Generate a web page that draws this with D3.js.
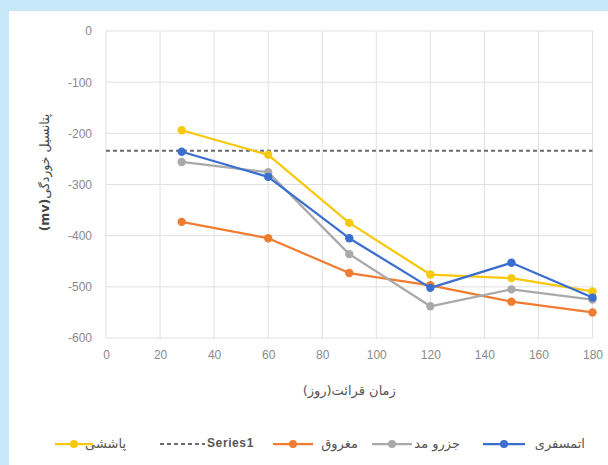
<!DOCTYPE html>
<html>
<head>
<meta charset="utf-8">
<script src="https://cdn.jsdelivr.net/npm/d3@7"></script>
<style>
  html, body { margin: 0; padding: 0; background: #c6e8f8; }
  svg { display: block; }
</style>
</head>
<body>
<script>
// Exposure time (days) and corrosion potential (mV) for each exposure zone
const days = [28, 60, 90, 120, 150, 180];
const atmospheric = [-236, -285, -405, -502, -453, -521];   // اتمسفری
const tidal = [-256, -276, -436, -538, -505, -525];         // جزرو مد
const submerged = [-373, -405, -473, -497, -529, -550];     // مغروق
const splash = [-194, -242, -375, -476, -483, -509];        // پاششی
const referenceDays = [0, 180];
const referenceLevel = [-234, -234];                        // Series1

const xTicks = [0, 20, 40, 60, 80, 100, 120, 140, 160, 180];
const yTicks = [0, -100, -200, -300, -400, -500, -600];

const W = 608, H = 465;
const svg = d3.select("body").append("svg").attr("width", W).attr("height", H);

// white chart panel on the light blue page
svg.append("rect").attr("x", 9).attr("y", 11).attr("width", W - 9).attr("height", H - 11).attr("fill", "#ffffff");

const x = d3.scaleLinear().domain([0, 180]).range([106, 592.5]);
const y = d3.scaleLinear().domain([-600, 0]).range([338, 31]);

// gridlines
const grid = svg.append("g").attr("stroke", "#e0e0e0").attr("stroke-width", 1);
grid.selectAll("line.h").data(yTicks).join("line")
  .attr("x1", x(0)).attr("x2", x(180))
  .attr("y1", d => y(d)).attr("y2", d => y(d));
grid.selectAll("line.v").data(xTicks).join("line")
  .attr("y1", y(0)).attr("y2", y(-600))
  .attr("x1", d => x(d)).attr("x2", d => x(d));

// axes (labels only, plain hyphen for negatives)
const yAxis = svg.append("g").attr("transform", `translate(${x(0) - 14},0)`)
  .call(d3.axisLeft(y).tickValues(yTicks).tickSize(0).tickPadding(0).tickFormat(d => String(d)));
const xAxis = svg.append("g").attr("transform", `translate(0,${y(-600) + 12})`)
  .call(d3.axisBottom(x).tickValues(xTicks).tickSize(0).tickPadding(0).tickFormat(d => String(d)));
[yAxis, xAxis].forEach(a => {
  a.select(".domain").remove();
  a.selectAll("text").attr("fill", "#8a8a8a").attr("font-size", 12)
    .attr("font-family", "Liberation Sans, Arial, sans-serif");
});

// axis titles
svg.append("text")
  .attr("transform", `translate(45,${(y(0) + y(-600)) / 2 - 12}) rotate(-90)`)
  .attr("text-anchor", "middle").attr("dominant-baseline", "middle")
  .style("direction", "rtl")
  .attr("font-family", "DejaVu Sans, sans-serif").attr("font-size", 12.5).attr("fill", "#444")
  .text("پتانسیل خوردگی")
  .append("tspan").attr("font-weight", "bold").text("(mv)");

svg.append("text")
  .attr("x", (x(0) + x(180)) / 2).attr("y", 391)
  .attr("text-anchor", "middle").attr("dominant-baseline", "middle")
  .style("direction", "rtl")
  .attr("font-family", "DejaVu Sans, sans-serif").attr("font-size", 13).attr("fill", "#555")
  .text("زمان قرائت(روز)");

// series
const series = [
  { name: "اتمسفری", values: atmospheric, color: "#3b6fcf" },
  { name: "جزرو مد", values: tidal, color: "#a9a9a9" },
  { name: "مغروق", values: submerged, color: "#ee7d31" },
  { name: "پاششی", values: splash, color: "#f8c80c" }
];

const line = d3.line().x(d => x(d[0])).y(d => y(d[1]));

// horizontal reference (Series1)
svg.append("path")
  .datum(referenceDays.map((d, i) => [d, referenceLevel[i]]))
  .attr("d", line).attr("fill", "none")
  .attr("stroke", "#6b6b6b").attr("stroke-width", 2).attr("stroke-dasharray", "4,3");

// draw in reverse so the first series sits on top
[series[3], series[2], series[1], series[0]].forEach(s => {
  const pts = days.map((d, i) => [d, s.values[i]]);
  const g = svg.append("g");
  g.append("path").datum(pts).attr("d", line).attr("fill", "none")
    .attr("stroke", s.color).attr("stroke-width", 2.25).attr("stroke-linejoin", "round");
  g.selectAll("circle").data(pts).join("circle")
    .attr("cx", d => x(d[0])).attr("cy", d => y(d[1])).attr("r", 4.2)
    .attr("fill", s.color);
});

// legend
const legend = svg.append("g").attr("font-family", "DejaVu Sans, sans-serif").attr("font-size", 13);
const ly = 444;
const legendItems = [
  { name: "اتمسفری", color: "#3b6fcf", x1: 483, x2: 525, tx: 585 },
  { name: "جزرو مد", color: "#a9a9a9", x1: 372, x2: 412, tx: 460 },
  { name: "مغروق", color: "#ee7d31", x1: 273, x2: 313, tx: 358 },
  { name: "پاششی", color: "#f8c80c", x1: 55, x2: 93, tx: 126 }
];
legendItems.forEach(it => {
  legend.append("line").attr("x1", it.x1).attr("x2", it.x2).attr("y1", ly).attr("y2", ly)
    .attr("stroke", it.color).attr("stroke-width", 2.25);
  legend.append("circle").attr("cx", (it.x1 + it.x2) / 2).attr("cy", ly).attr("r", 4).attr("fill", it.color);
  legend.append("text").attr("x", it.tx).attr("y", ly).attr("text-anchor", "end")
    .attr("dominant-baseline", "middle").attr("fill", "#555").text(it.name);
});
legend.append("line").attr("x1", 160).attr("x2", 205).attr("y1", ly).attr("y2", ly)
  .attr("stroke", "#6b6b6b").attr("stroke-width", 2).attr("stroke-dasharray", "4,3");
legend.append("text").attr("x", 207).attr("y", ly).attr("dominant-baseline", "middle")
  .attr("font-family", "Liberation Sans, Arial, sans-serif").attr("font-weight", "bold")
  .attr("font-size", 12).attr("letter-spacing", 0.6)
  .attr("fill", "#555").text("Series1");
</script>
</body>
</html>
